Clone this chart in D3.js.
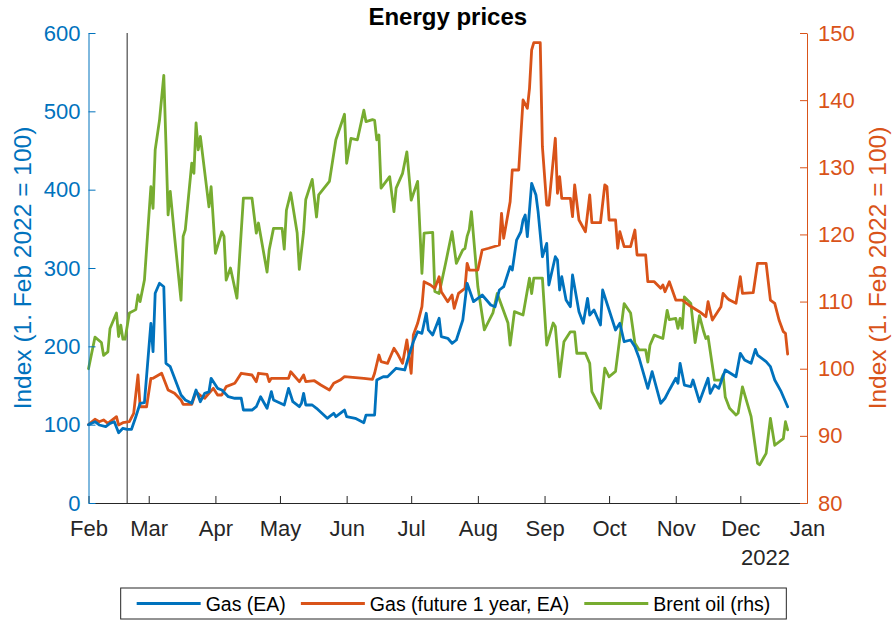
<!DOCTYPE html>
<html>
<head>
<meta charset="utf-8">
<script src="https://cdn.jsdelivr.net/npm/d3@7"></script>
<style>
  body { margin: 0; background: #fff; }
  svg { font-family: "Liberation Sans", Arial, Helvetica, sans-serif; }
</style>
</head>
<body>
<div id="chart"></div>
<script>
// ---- data ----
const chartTitle = "Energy prices";
const axisLabel = "Index (1. Feb 2022 = 100)";
const leftTicks = [0, 100, 200, 300, 400, 500, 600];
const rightTicks = [80, 90, 100, 110, 120, 130, 140, 150];
const monthTicks = ["2022-02-01", "2022-03-01", "2022-04-01", "2022-05-01", "2022-06-01", "2022-07-01",
  "2022-08-01", "2022-09-01", "2022-10-01", "2022-11-01", "2022-12-01", "2023-01-01"];
const yearLabel = "2022";
const markerDate = "2022-02-19";
const seriesNames = ["Gas (EA)", "Gas (future 1 year, EA)", "Brent oil (rhs)"];

// Gas (EA), left axis
const gasEA = [
  ["02-01",100],["02-04",103.8],["02-06",99.6],["02-09",97.4],["02-11",101.7],["02-13",103.8],["02-15",89.7],
  ["02-17",95.4],["02-19",94.1],["02-21",94.1],["02-23",110.2],["02-25",127.3],["02-27",128.0],["03-02",229.4],
  ["03-03",193.2],["03-04",267.7],["03-06",280.5],["03-08",276.1],["03-09",178.3],["03-11",174.0],["03-16",137.9],
  ["03-18",131.5],["03-21",127.3],["03-23",144.3],["03-25",129.3],["03-27",140.0],["03-29",142.1],["03-30",159.2],
  ["04-02",146.4],["04-04",144.3],["04-07",135.7],["04-10",133.7],["04-13",133.7],["04-14",118.7],["04-18",118.7],
  ["04-20",122.9],["04-22",135.7],["04-25",120.9],["04-27",142.1],["04-28",131.5],["05-03",125.1],["05-05",146.4],
  ["05-07",129.3],["05-10",122.9],["05-11",127.3],["05-12",140.0],["05-13",125.1],["05-16",125.1],["05-18",120.9],
  ["05-23",108.1],["05-24",110.2],["05-26",114.5],["05-27",110.2],["05-31",118.7],["06-01",110.2],["06-05",108.1],
  ["06-09",102.5],["06-10",112.3],["06-14",112.3],["06-15",157.0],["06-18",161.2],["06-20",161.2],["06-24",172.0],
  ["06-28",169.8],["06-30",188.9],["07-02",205.9],["07-04",218.7],["07-06",216.6],["07-08",242.2],["07-09",220.9],
  ["07-11",214.5],["07-14",235.8],["07-15",212.3],["07-18",210.3],["07-20",203.9],["07-22",208.1],["07-25",233.6],
  ["07-27",280.5],["07-30",257.0],["08-03",265.5],["08-07",252.8],["08-09",250.6],["08-11",271.9],["08-13",276.1],
  ["08-16",301.7],["08-17",297.4],["08-19",335.7],["08-21",346.3],["08-22",361.3],["08-23",367.7],["08-24",340.0],
  ["08-26",408.1],["08-28",393.2],["08-29",371.9],["08-31",314.4],["09-02",331.5],["09-03",278.3],["09-06",314.4],
  ["09-07",310.2],["09-08",271.9],["09-09",288.9],["09-11",259.1],["09-13",250.6],["09-14",291.1],["09-17",244.2],
  ["09-19",229.4],["09-21",261.3],["09-22",240.0],["09-24",246.4],["09-27",227.2],["09-28",271.9],["10-01",246.4],
  ["10-04",220.9],["10-06",229.4],["10-08",205.9],["10-11",208.1],["10-13",199.5],["10-15",184.7],["10-19",146.4],
  ["10-21",167.6],["10-25",127.3],["10-27",133.7],["10-29",144.3],["11-01",159.2],["11-02",152.8],["11-03",178.3],
  ["11-05",150.6],["11-08",148.5],["11-09",157.0],["11-12",129.3],["11-14",144.3],["11-16",159.2],["11-17",140.0],
  ["11-19",150.6],["11-21",146.4],["11-24",169.8],["11-29",161.2],["12-01",191.1],["12-03",182.6],["12-06",178.3],
  ["12-08",196.2],["12-09",188.9],["12-13",180.4],["12-15",174.0],["12-17",157.0],["12-20",142.1],["12-23",122.9]
];

// Gas (future 1 year, EA), left axis
const gasFuture = [
  ["02-01",100],["02-04",106.9],["02-06",103.8],["02-08",106.0],["02-10",101.7],["02-14",110.2],["02-15",99.6],
  ["02-17",102.5],["02-20",103.8],["02-22",114.5],["02-24",163.4],["02-25",122.9],["02-28",122.9],["03-02",159.2],
  ["03-03",159.2],["03-07",165.6],["03-10",144.3],["03-13",140.0],["03-16",131.5],["03-17",126.0],["03-21",126.0],
  ["03-23",142.1],["03-26",134.9],["03-27",133.7],["03-31",146.4],["04-02",137.9],["04-04",137.9],["04-06",148.5],
  ["04-10",152.8],["04-11",157.0],["04-13",165.6],["04-18",163.4],["04-20",154.9],["04-21",165.6],["04-25",164.3],
  ["04-26",154.9],["04-27",159.2],["05-05",159.2],["05-06",167.6],["05-10",154.9],["05-12",163.4],["05-13",154.9],
  ["05-17",156.1],["05-20",150.6],["05-24",144.3],["05-26",152.8],["05-29",157.0],["05-31",161.2],["06-09",159.2],
  ["06-13",157.9],["06-14",165.6],["06-16",188.9],["06-17",180.4],["06-20",178.3],["06-23",197.5],["06-25",188.9],
  ["06-27",178.3],["06-29",208.1],["07-01",165.6],["07-02",214.5],["07-04",229.4],["07-06",250.6],["07-07",282.5],
  ["07-10",278.3],["07-12",274.1],["07-14",288.9],["07-15",269.7],["07-18",257.0],["07-20",265.5],["07-21",248.6],
  ["07-23",267.7],["07-26",274.1],["07-27",306.0],["07-28",297.4],["08-01",297.4],["08-03",323.0],["08-06",325.2],
  ["08-11",329.4],["08-12",369.8],["08-13",337.9],["08-16",384.6],["08-17",425.1],["08-20",425.1],["08-22",514.5],
  ["08-24",503.9],["08-25",529.4],["08-26",578.3],["08-27",587.6],["08-30",587.6],["08-31",454.9],["09-02",380.4],
  ["09-03",380.4],["09-06",465.6],["09-07",395.4],["09-08",416.6],["09-09",389.0],["09-13",389.0],["09-14",365.5],
  ["09-15",406.0],["09-17",361.3],["09-20",346.3],["09-22",393.2],["09-23",357.8],["09-27",357.8],["09-29",406.0],
  ["09-30",403.8],["10-01",361.3],["10-04",361.3],["10-05",325.2],["10-06",346.3],["10-08",327.2],["10-11",327.2],
  ["10-13",348.5],["10-14",316.6],["10-18",316.6],["10-19",282.5],["10-22",282.5],["10-25",274.1],["10-26",278.3],
  ["10-27",269.7],["10-29",282.5],["11-01",259.1],["11-04",259.1],["11-07",252.8],["11-12",244.2],["11-15",237.8],
  ["11-16",257.0],["11-18",233.6],["11-22",250.6],["11-23",267.7],["11-25",261.3],["11-26",259.1],["11-29",254.9],
  ["12-01",288.9],["12-02",267.7],["12-07",268.5],["12-09",306.0],["12-13",306.0],["12-15",259.1],["12-17",254.9],
  ["12-19",233.6],["12-21",218.7],["12-22",216.6],["12-23",190.2]
];

// Brent oil, right axis
const brentOil = [
  ["02-01",100.0],["02-04",104.7],["02-07",103.9],["02-08",102.0],["02-10",102.5],["02-11",106.0],["02-14",108.3],
  ["02-15",104.8],["02-16",106.5],["02-17",104.4],["02-18",104.4],["02-20",108.3],["02-23",108.8],["02-24",111.0],
  ["02-25",110.0],["02-27",113.2],["03-02",127.1],["03-03",123.9],["03-04",132.6],["03-06",137.0],["03-08",143.7],
  ["03-09",133.6],["03-10",122.9],["03-11",126.4],["03-13",119.7],["03-16",110.2],["03-17",119.7],["03-18",120.7],
  ["03-21",130.6],["03-22",129.1],["03-23",136.6],["03-24",132.6],["03-25",134.6],["03-29",124.1],["03-30",127.1],
  ["04-01",117.2],["04-04",120.4],["04-05",119.7],["04-06",113.2],["04-08",115.0],["04-11",110.5],["04-14",125.4],
  ["04-18",125.4],["04-20",120.2],["04-21",121.7],["04-25",114.4],["04-26",117.7],["04-28",120.9],["05-02",120.9],
  ["05-03",117.8],["05-04",123.6],["05-06",126.2],["05-09",120.2],["05-10",114.8],["05-12",120.4],["05-13",125.2],
  ["05-16",128.2],["05-18",122.6],["05-19",125.9],["05-24",127.9],["05-27",134.1],["05-31",137.9],["06-01",130.6],
  ["06-03",134.3],["06-06",134.1],["06-09",138.5],["06-10",136.8],["06-13",137.1],["06-14",137.0],["06-15",134.1],
  ["06-16",134.8],["06-17",126.9],["06-21",128.6],["06-23",123.4],["06-24",126.9],["06-27",129.1],["06-29",132.3],
  ["07-01",125.1],["07-04",127.9],["07-06",114.2],["07-07",120.2],["07-11",120.3],["07-12",111.5],["07-14",111.2],
  ["07-17",115.7],["07-20",120.4],["07-22",115.7],["07-25",117.7],["07-26",117.9],["07-27",119.7],["07-28",120.7],
  ["07-29",123.4],["08-01",112.2],["08-04",105.8],["08-08",108.3],["08-10",111.2],["08-15",106.8],["08-16",103.5],
  ["08-18",108.5],["08-22",108.0],["08-25",113.5],["08-26",111.2],["08-27",113.5],["08-31",113.5],["09-02",103.5],
  ["09-05",106.8],["09-06",106.3],["09-08",98.8],["09-10",104.0],["09-13",105.5],["09-15",105.5],["09-16",102.3],
  ["09-20",102.3],["09-22",100.8],["09-23",96.6],["09-27",94.1],["09-29",100.1],["10-01",98.8],["10-04",99.6],
  ["10-08",109.7],["10-11",108.3],["10-13",103.8],["10-15",102.8],["10-18",102.8],["10-19",101.0],["10-20",103.5],
  ["10-22",105.0],["10-26",104.5],["10-28",108.7],["10-29",107.3],["11-01",107.5],["11-02",106.0],["11-03",107.5],
  ["11-04",106.0],["11-05",110.7],["11-08",109.7],["11-10",103.9],["11-12",107.9],["11-14",105.5],["11-15",104.5],
  ["11-16",104.8],["11-19",98.3],["11-22",98.3],["11-23",99.1],["11-24",95.8],["11-26",94.1],["11-29",93.1],
  ["11-30",93.4],["12-02",97.3],["12-06",92.9],["12-09",85.9],["12-10",85.7],["12-13",87.4],["12-15",92.6],
  ["12-17",88.6],["12-21",89.6],["12-22",92.1],["12-23",90.9]
];

const colors = ["#0072BD", "#D95319", "#77AC30"];

// ---- layout ----
const W = 893, H = 621;
const plot = { left: 88.5, right: 807, top: 33, bottom: 503 };
const tickFont = "22px", labelFont = "24.5px", legendFont = "19.5px";

const parseDay = d3.timeParse("%Y-%m-%d");
const toPoints = arr => arr.map(d => ({ date: parseDay("2022-" + d[0]), value: d[1] }));

const svg = d3.select("#chart").append("svg").attr("width", W).attr("height", H);

const x = d3.scaleTime()
  .domain([parseDay(monthTicks[0]), parseDay(monthTicks[monthTicks.length - 1])])
  .range([plot.left, plot.right]);
const yL = d3.scaleLinear().domain([0, 600]).range([plot.bottom, plot.top]);
const yR = d3.scaleLinear().domain([80, 150]).range([plot.bottom, plot.top]);

const lineL = d3.line().x(d => x(d.date)).y(d => yL(d.value));
const lineR = d3.line().x(d => x(d.date)).y(d => yR(d.value));

const g = svg.append("g");

// event marker
g.append("line")
  .attr("x1", x(parseDay(markerDate))).attr("x2", x(parseDay(markerDate)))
  .attr("y1", plot.top).attr("y2", plot.bottom)
  .attr("stroke", "#6e6e6e").attr("stroke-width", 1.5);

const drawn = [
  { data: toPoints(brentOil), gen: lineR, color: colors[2] },
  { data: toPoints(gasFuture), gen: lineL, color: colors[1] },
  { data: toPoints(gasEA), gen: lineL, color: colors[0] }
];
drawn.forEach(s => {
  g.append("path")
    .datum(s.data)
    .attr("fill", "none")
    .attr("stroke", s.color)
    .attr("stroke-width", 2.8)
    .attr("stroke-linejoin", "round")
    .attr("stroke-linecap", "round")
    .attr("d", s.gen);
});

// axes
const xAxis = d3.axisBottom(x)
  .tickValues(monthTicks.map(parseDay))
  .tickFormat(d3.timeFormat("%b"))
  .tickSizeInner(-7).tickSizeOuter(0).tickPadding(17);
const gx = svg.append("g").attr("transform", "translate(0," + plot.bottom + ")").call(xAxis);
gx.selectAll("path, line").attr("stroke", "#262626");
gx.selectAll("text").attr("fill", "#262626").style("font-size", tickFont);

const gyl = svg.append("g").attr("transform", "translate(" + plot.left + ",0)")
  .call(d3.axisLeft(yL).tickValues(leftTicks).tickSizeInner(-7).tickSizeOuter(0).tickPadding(8));
gyl.selectAll("path, line").attr("stroke", colors[0]);
gyl.selectAll("text").attr("fill", colors[0]).style("font-size", tickFont);

const gyr = svg.append("g").attr("transform", "translate(" + plot.right + ",0)")
  .call(d3.axisRight(yR).tickValues(rightTicks).tickSizeInner(-7).tickSizeOuter(0).tickPadding(11));
gyr.selectAll("path, line").attr("stroke", colors[1]);
gyr.selectAll("text").attr("fill", colors[1]).style("font-size", tickFont);

svg.append("text")
  .attr("x", 790).attr("y", 565)
  .attr("text-anchor", "end")
  .attr("fill", "#262626").style("font-size", tickFont)
  .text(yearLabel);

// title
svg.append("text")
  .attr("x", (plot.left + plot.right) / 2).attr("y", 25)
  .attr("text-anchor", "middle")
  .style("font-size", "24px").style("font-weight", "bold")
  .attr("fill", "#000")
  .text(chartTitle);

// axis titles
const midY = (plot.top + plot.bottom) / 2;
svg.append("text")
  .attr("transform", "translate(31," + midY + ") rotate(-90)")
  .attr("text-anchor", "middle")
  .attr("fill", colors[0]).style("font-size", labelFont)
  .text(axisLabel);
svg.append("text")
  .attr("transform", "translate(886," + midY + ") rotate(-90)")
  .attr("text-anchor", "middle")
  .attr("fill", colors[1]).style("font-size", labelFont)
  .text(axisLabel);

// legend
const leg = svg.append("g");
const legBox = leg.append("rect")
  .attr("fill", "#fff").attr("stroke", "#262626").attr("stroke-width", 1);
const lineLen = 64, gapText = 5, gapItem = 15, padX = 16;
let cx = 0;
seriesNames.forEach((name, i) => {
  const it = leg.append("g").attr("transform", "translate(" + cx + ",0)");
  it.append("line").attr("x1", 0).attr("x2", lineLen).attr("y1", 0).attr("y2", 0)
    .attr("stroke", colors[i]).attr("stroke-width", 2.8);
  const t = it.append("text").attr("x", lineLen + gapText).attr("y", 7)
    .style("font-size", legendFont).attr("fill", "#000").text(name);
  cx += lineLen + gapText + t.node().getComputedTextLength() + gapItem;
});
const legW = cx - gapItem + 2 * padX;
const legCenter = 453.5;
const legY = 588, legH = 31;
legBox.attr("x", -padX).attr("y", -legH / 2).attr("width", legW).attr("height", legH);
leg.attr("transform", "translate(" + (legCenter - legW / 2 + padX) + "," + (legY + legH / 2) + ")");
</script>
</body>
</html>
